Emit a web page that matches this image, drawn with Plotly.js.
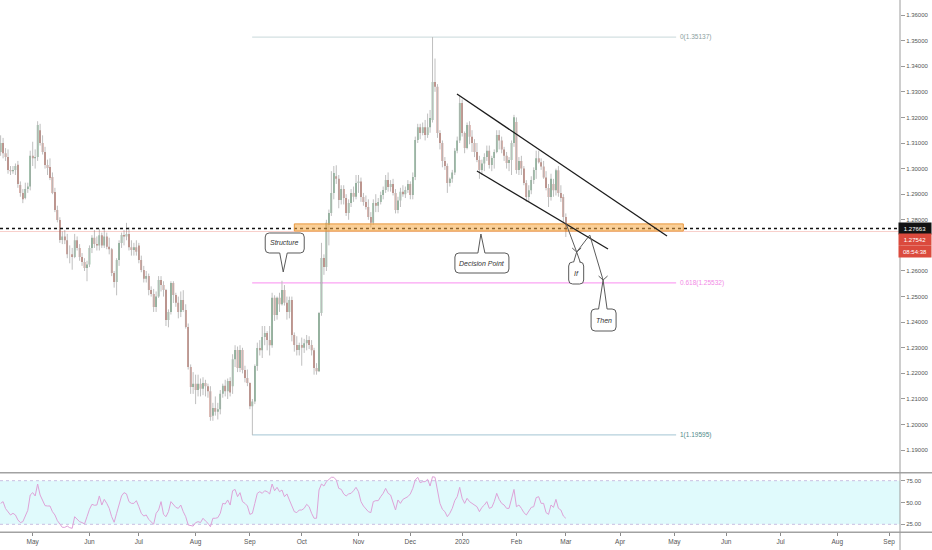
<!DOCTYPE html>
<html><head><meta charset="utf-8">
<script src="https://cdn.plot.ly/plotly-3.0.1.min.js"></script>
<style>html,body{margin:0;padding:0;background:#fff;}#chart{width:932px;height:550px;}</style>
</head><body><div id="chart"></div>
<script>
// ---- categories ----
const startDate = '2019-04-12';
const endDate = '2020-03-02';
const holidays = ['2019-12-25', '2020-01-01'];
const monthTickDates = ['2019-05-01','2019-06-03','2019-07-01','2019-08-01','2019-09-02','2019-10-01','2019-11-01','2019-12-02','2020-01-02','2020-02-03','2020-03-02','2020-04-01','2020-05-01','2020-06-01','2020-07-01','2020-08-03','2020-09-01'];
const monthTickLabels = ['May','Jun','Jul','Aug','Sep','Oct','Nov','Dec','2020','Feb','Mar','Apr','May','Jun','Jul','Aug','Sep'];
const priceTickValues = [1.19,1.20,1.21,1.22,1.23,1.24,1.25,1.26,1.28,1.29,1.30,1.31,1.32,1.33,1.34,1.35,1.36];
const rsiTickValues = [25, 50, 75];
const rsiTickLabels = ['25.00', '50.00', '75.00'];

// ---- series (daily OHLC, Apr 12 2019 .. Mar 2 2020) ----
const open = [
1.3065,1.3100,1.3060,1.3045,1.2995,1.2990,1.2995,1.3015,1.2936,1.2905,1.2885,1.2920,1.2930,
1.3050,1.3040,1.3045,1.3150,1.3100,1.3065,1.3014,1.3006,1.2967,1.2909,1.2838,1.2799,1.2721,1.2735,1.2720,1.2665,1.2665,1.2655,1.2720,1.2690,1.2655,1.2635,1.2612,
1.2625,1.2690,1.2730,1.2705,1.2700,1.2740,1.2700,1.2735,1.2695,1.2685,1.2592,1.2557,1.2643,1.2709,1.2741,1.2735,1.2745,1.2693,1.2682,1.2693,
1.2700,1.2643,1.2604,1.2570,1.2580,1.2526,1.2510,1.2459,1.2500,1.2565,1.2545,1.2526,1.2409,1.2440,1.2553,1.2506,1.2476,1.2440,1.2487,1.2448,1.2381,1.2225,1.2147,
1.2160,1.2135,1.2160,1.2140,1.2162,1.2150,1.2130,1.2035,1.2065,1.2050,1.2060,1.2120,1.2152,1.2130,1.2170,1.2150,1.2255,1.2291,1.2221,1.2291,1.2213,1.2182,
1.2162,1.2072,1.2090,1.2229,1.2299,1.2290,1.2342,1.2358,1.2330,1.2310,1.2495,1.2428,1.2495,1.2470,1.2526,1.2476,1.2440,1.2487,1.2350,1.2311,1.2291,
1.2311,1.2300,1.2318,1.2330,1.2311,1.2290,1.2221,1.2208,1.2436,1.2651,1.2616,1.2780,1.2827,1.2905,1.2970,1.2960,1.2877,1.2920,1.2885,1.2827,1.2866,1.2905,1.2890,
1.2944,1.2950,1.2889,1.2870,1.2850,1.2811,1.2788,1.2866,1.2855,1.2870,1.2897,1.2916,1.2955,1.2928,1.2940,1.2905,1.2838,1.2875,1.2910,1.2900,1.2916,
1.2940,1.2897,1.2967,1.3112,1.3162,1.3139,1.3162,1.3131,1.3162,1.3190,1.3338,1.3320,1.3139,1.3100,1.3030,1.3010,1.2944,1.2960,1.2985,1.3070,1.3110,
1.3256,1.3139,1.3080,1.3170,1.3124,1.3100,1.3065,1.3034,1.2995,1.3020,1.3045,1.3070,1.3014,1.3041,1.3065,1.3131,1.3110,1.3075,1.3050,1.3022,1.3034,1.3100,
1.3182,1.2995,1.3030,1.3000,1.2944,1.2889,1.2915,1.2955,1.2995,1.3040,1.3025,1.3008,1.2965,1.2924,1.2889,1.2940,1.2915,1.2994,1.2905,1.2889,
1.2811];
const high = [
1.3130,1.3120,1.3080,1.3075,1.3010,1.3010,1.3020,1.3030,1.2950,1.2920,1.2945,1.2945,1.3070,
1.3105,1.3075,1.3185,1.3175,1.3130,1.3085,1.3035,1.3040,1.2985,1.2925,1.2855,1.2810,1.2755,1.2760,1.2745,1.2700,1.2690,1.2745,1.2735,1.2705,1.2670,1.2650,1.2640,
1.2700,1.2740,1.2760,1.2735,1.2765,1.2750,1.2765,1.2750,1.2730,1.2690,1.2600,1.2650,1.2720,1.2750,1.2760,1.2788,1.2770,1.2720,1.2710,1.2720,
1.2710,1.2660,1.2620,1.2600,1.2590,1.2540,1.2530,1.2520,1.2580,1.2580,1.2560,1.2530,1.2450,1.2560,1.2560,1.2515,1.2500,1.2520,1.2525,1.2470,1.2395,1.2235,1.2205,
1.2195,1.2195,1.2180,1.2185,1.2175,1.2160,1.2150,1.2085,1.2110,1.2085,1.2135,1.2160,1.2175,1.2180,1.2185,1.2275,1.2310,1.2305,1.2310,1.2300,1.2230,1.2215,
1.2165,1.2100,1.2235,1.2320,1.2330,1.2385,1.2385,1.2365,1.2385,1.2515,1.2505,1.2500,1.2515,1.2562,1.2545,1.2500,1.2500,1.2500,1.2360,1.2345,1.2320,
1.2340,1.2335,1.2350,1.2345,1.2330,1.2300,1.2240,1.2440,1.2710,1.2665,1.2800,1.2840,1.2990,1.3010,1.3013,1.2975,1.2935,1.2935,1.2900,1.2880,1.2920,1.2930,1.2975,
1.2975,1.2965,1.2905,1.2895,1.2880,1.2830,1.2880,1.2900,1.2885,1.2910,1.2930,1.2975,1.2985,1.2955,1.2960,1.2920,1.2890,1.2925,1.2935,1.2930,1.2955,
1.2950,1.2985,1.3125,1.3175,1.3175,1.3180,1.3190,1.3215,1.3229,1.3514,1.3430,1.3330,1.3150,1.3110,1.3045,1.3020,1.2965,1.2995,1.3080,1.3125,1.3285,
1.3270,1.3145,1.3180,1.3185,1.3150,1.3115,1.3100,1.3050,1.3035,1.3060,1.3090,1.3090,1.3050,1.3075,1.3150,1.3150,1.3125,1.3085,1.3065,1.3045,1.3110,1.3210,
1.3200,1.3045,1.3050,1.3010,1.2955,1.2935,1.2970,1.3005,1.3070,1.3070,1.3040,1.3030,1.2990,1.2940,1.2980,1.2960,1.3000,1.3010,1.2935,1.2900,
1.2825];
const low = [
1.3050,1.3040,1.3030,1.2980,1.2975,1.2980,1.2975,1.2925,1.2890,1.2865,1.2880,1.2905,1.2915,
1.3010,1.3000,1.3030,1.3090,1.3055,1.3000,1.2975,1.2955,1.2900,1.2830,1.2790,1.2710,1.2705,1.2705,1.2650,1.2630,1.2605,1.2650,1.2680,1.2640,1.2620,1.2600,1.2560,
1.2615,1.2670,1.2690,1.2680,1.2680,1.2690,1.2690,1.2685,1.2665,1.2580,1.2535,1.2505,1.2620,1.2690,1.2700,1.2720,1.2680,1.2660,1.2660,1.2660,
1.2630,1.2595,1.2555,1.2555,1.2505,1.2500,1.2440,1.2440,1.2495,1.2520,1.2500,1.2385,1.2380,1.2430,1.2475,1.2460,1.2415,1.2420,1.2440,1.2375,1.2215,1.2120,1.2120,
1.2080,1.2110,1.2110,1.2115,1.2110,1.2105,1.2015,1.2015,1.2035,1.2020,1.2040,1.2105,1.2110,1.2100,1.2110,1.2120,1.2225,1.2205,1.2205,1.2200,1.2165,1.2150,
1.2060,1.1959,1.2080,1.2210,1.2270,1.2260,1.2310,1.2290,1.2270,1.2300,1.2405,1.2410,1.2440,1.2465,1.2465,1.2410,1.2415,1.2325,1.2285,1.2270,1.2270,
1.2230,1.2280,1.2290,1.2295,1.2270,1.2195,1.2195,1.2205,1.2425,1.2585,1.2600,1.2700,1.2815,1.2880,1.2940,1.2845,1.2860,1.2860,1.2815,1.2800,1.2850,1.2870,1.2880,
1.2905,1.2870,1.2855,1.2840,1.2800,1.2770,1.2780,1.2830,1.2830,1.2860,1.2880,1.2905,1.2910,1.2910,1.2895,1.2825,1.2825,1.2850,1.2890,1.2885,1.2905,
1.2880,1.2880,1.2955,1.3100,1.3115,1.3130,1.3110,1.3120,1.3140,1.3180,1.3300,1.3120,1.3075,1.3005,1.2995,1.2905,1.2930,1.2945,1.2975,1.3060,1.3100,
1.3125,1.3060,1.3075,1.3095,1.3065,1.3045,1.3025,1.2960,1.2975,1.2990,1.3030,1.3000,1.2990,1.3000,1.3060,1.3075,1.3060,1.3030,1.3000,1.2990,1.2975,1.3085,
1.2980,1.2975,1.2975,1.2935,1.2870,1.2870,1.2900,1.2940,1.2960,1.3020,1.2995,1.2960,1.2915,1.2850,1.2875,1.2890,1.2895,1.2890,1.2870,1.2790,
1.2733];
const close = [
1.3100,1.3060,1.3045,1.2995,1.2990,1.2995,1.3010,1.2940,1.2905,1.2880,1.2920,1.2930,1.3050,
1.3040,1.3045,1.3170,1.3100,1.3065,1.3014,1.3002,1.2963,1.2905,1.2838,1.2799,1.2721,1.2735,1.2720,1.2665,1.2665,1.2655,1.2720,1.2690,1.2655,1.2635,1.2612,1.2625,
1.2690,1.2730,1.2705,1.2700,1.2740,1.2700,1.2735,1.2695,1.2685,1.2592,1.2557,1.2643,1.2709,1.2741,1.2735,1.2745,1.2693,1.2682,1.2693,1.2675,
1.2643,1.2604,1.2570,1.2580,1.2526,1.2510,1.2459,1.2500,1.2565,1.2545,1.2526,1.2409,1.2440,1.2553,1.2506,1.2476,1.2440,1.2487,1.2448,1.2381,1.2225,1.2147,1.2160,
1.2135,1.2160,1.2140,1.2162,1.2150,1.2130,1.2030,1.2065,1.2050,1.2060,1.2120,1.2152,1.2130,1.2170,1.2125,1.2255,1.2291,1.2221,1.2291,1.2213,1.2182,1.2162,
1.2072,1.2090,1.2229,1.2299,1.2290,1.2342,1.2358,1.2330,1.2310,1.2495,1.2428,1.2495,1.2470,1.2526,1.2476,1.2440,1.2487,1.2350,1.2311,1.2291,1.2311,
1.2300,1.2318,1.2330,1.2311,1.2290,1.2221,1.2208,1.2436,1.2651,1.2616,1.2788,1.2827,1.2905,1.2983,1.2960,1.2877,1.2920,1.2885,1.2827,1.2866,1.2905,1.2890,1.2944,
1.2950,1.2889,1.2870,1.2850,1.2811,1.2788,1.2866,1.2855,1.2870,1.2897,1.2916,1.2955,1.2928,1.2940,1.2905,1.2838,1.2875,1.2910,1.2900,1.2916,1.2940,
1.2897,1.2967,1.3112,1.3162,1.3139,1.3162,1.3131,1.3162,1.3198,1.3338,1.3320,1.3139,1.3100,1.3030,1.3010,1.2944,1.2960,1.2985,1.3070,1.3110,1.3256,
1.3139,1.3080,1.3170,1.3124,1.3100,1.3065,1.3034,1.2995,1.3020,1.3045,1.3070,1.3014,1.3041,1.3065,1.3131,1.3110,1.3075,1.3050,1.3022,1.3034,1.3100,1.3201,
1.2995,1.3030,1.3000,1.2944,1.2889,1.2915,1.2955,1.2995,1.3040,1.3025,1.3008,1.2965,1.2924,1.2889,1.2960,1.2915,1.2994,1.2905,1.2885,1.2811,
1.27542];
// RSI(14) values
const rsi = [
49,51,43,39.5,35.7,37.6,35.7,30,27,28,
33.7,41,58.6,61.3,57.5,71.2,58.6,52.9,46.4,46,
46,39.5,35.7,29.2,25.4,21.5,21.5,23,21.1,20.4,
33.7,30.7,28,27,25.4,33.7,42.2,47.9,46.8,47.1,
57.5,47.1,53.6,49,43.3,33.7,27.3,37.6,49,57.5,
61.3,59.8,51,49,49,52.1,45.2,37.6,34.5,35.7,
30.7,28,25,37.6,41.4,51,36.4,33.7,39.5,51,
47.1,44.4,43.3,47.1,39.5,33.7,24.2,23.4,23,26.9,
28,27,31.9,28.8,26.2,22.3,31.9,31.9,32.6,37.6,
49,48.3,52.9,47.1,63.5,65,56.7,61.3,51,49,
46,36.4,37.6,49,60.5,62.4,60.5,63.5,62.4,59.8,
71.2,63.5,67.4,62.4,64.3,
56.7,59.8,52.9,45.2,39.5,38.4,41.4,41.4,43.3,47.9,
45.2,37.6,31.9,31.9,64.3,71.2,68.9,73.9,76.6,78.9,
78.9,75.8,66.2,65.1,59.8,57.5,59.8,60.5,63.5,67.4,
62.4,51,46,43.3,39.5,38.4,51,52.1,52.1,56.7,
60.5,66.2,60.5,58.6,51,41.4,52.9,49,53.6,54.8,
56.7,59.8,66.2,75.8,78.9,72.7,73.9,73.9,76.6,68.9,
79.6,78.9,64.3,49,42.2,39.5,33.7,37.6,43.3,52.1,
56.7,67.4,54.8,49,54.8,51,49,47.1,45.2,39.5,
44.4,47.1,51,43.3,44.4,51,60.5,53.6,49,47.1,
43.3,43.3,52.9,65,45.2,47.1,43.3,38.4,35.7,39.5,
44.4,45.2,55.6,56.7,49,49,38.4,36.4,47.1,44.4,
53.6,43.3,41.4,34.5,31.9];

// ---- levels / drawings ----
const fibLevels = [
  {label:'0(1.35137)', price:1.35137, line:'#d3e0e2', text:'#8aa0a0'},
  {label:'0.618(1.25532)', price:1.25532, line:'#fba3f3', text:'#f28ae6'},
  {label:'1(1.19595)', price:1.19595, line:'#b6d1dc', text:'#4f8a8a'}
];
const horizLinePrice = 1.27663;
const lastPrice = 1.27542;
const countdownText = '08:54:38';
const zone = {x0:'2019-09-26 12:00', x1:'2020-05-07 02:24', y0:1.2756, y1:1.2784};
const fibStart = '2019-09-03 10:00', fibEnd = '2020-05-04 04:48';
const channelUpper = [['2019-12-30 09:36', 1.32914], ['2020-04-28 12:00', 1.27367]];
const channelLower = [['2020-01-10 12:00', 1.29906], ['2020-03-25 14:24', 1.26859]];
const pathPts = [['2020-03-02 12:00', 1.27875], ['2020-03-06 21:36', 1.26742], ['2020-03-16 04:48', 1.27406], ['2020-03-23 14:24', 1.25648]];
const callouts = [
  {text:'Structure', x:'2019-09-20 00:00', y:1.25961, box:[-18,21,19,39], tail:[-3.5,4], up:true},
  {text:'Decision Point', x:'2020-01-14 02:24', y:1.27445, box:[-26,28,-19,-39], tail:[-3,4], up:false},
  {text:'If', x:pathPts[1][0], y:pathPts[1][1], box:[-8,7,-10,-32], tail:[-3,3.5], up:false},
  {text:'Then', x:pathPts[3][0], y:pathPts[3][1], box:[-12,13,-29,-51], tail:[-4.5,4], up:false}
];

// ---- build ----
function weekdayDates(s, e, skip) {
  const out = []; const d = new Date(s + 'T12:00:00Z'); const end = new Date(e + 'T12:00:00Z');
  while (d <= end) {
    const w = d.getUTCDay(); const iso = d.toISOString().slice(0, 10);
    if (w !== 0 && w !== 6 && !skip.includes(iso)) out.push(iso + ' 12:00');
    d.setUTCDate(d.getUTCDate() + 1);
  }
  return out;
}
const dates = weekdayDates(startDate, endDate, holidays);

const wx = [], wy = [];
dates.forEach((d, k) => { wx.push(d, d, null); wy.push(low[k], high[k], null); });

const GREEN = '#3f8858', RED = '#a33d2c';
const traces = [
  {type:'scatter', mode:'lines', x:wx, y:wy, line:{color:'#bfbfbf', width:1}, hoverinfo:'skip', xaxis:'x', yaxis:'y', connectgaps:false},
  {type:'candlestick', x:dates, open:open, high:high, low:low, close:close, xaxis:'x', yaxis:'y',
   increasing:{fillcolor:GREEN, line:{color:GREEN, width:0}},
   decreasing:{fillcolor:RED, line:{color:RED, width:0}}, whiskerwidth:0, hoverinfo:'skip'},
  {type:'scatter', mode:'lines', x:dates, y:rsi, xaxis:'x', yaxis:'y2', line:{color:'#dea2d8', width:1}, hoverinfo:'skip'}
];

const XD = 900 / 932;
const shapes = [];
const annotations = [];

// RSI band
shapes.push({type:'rect', xref:'paper', yref:'y2', x0:0, x1:XD, y0:25, y1:75, fillcolor:'#e0fafc', line:{width:0}, layer:'below'});
[25, 75].forEach(v => shapes.push({type:'line', xref:'paper', yref:'y2', x0:0, x1:XD, y0:v, y1:v, line:{color:'#c8bfe2', width:1, dash:'dot'}, layer:'below'}));
// pane separators & axis line
[1 - 472.7 / 550, 1 - 532.3 / 550].forEach(v => shapes.push({type:'line', xref:'paper', yref:'paper', x0:0, x1:1, y0:v, y1:v, line:{color:'#a2a2a2', width:1.5}}));
shapes.push({type:'line', xref:'paper', yref:'paper', x0:XD, x1:XD, y0:0, y1:1, line:{color:'#9c9c9c', width:1}});
// fib lines
fibLevels.forEach(f => {
  shapes.push({type:'line', xref:'x', yref:'y', x0:fibStart, x1:fibEnd, y0:f.price, y1:f.price, line:{color:f.line, width:1.2}, layer:'below'});
  annotations.push({xref:'x', yref:'y', x:fibEnd, y:f.price, text:f.label, showarrow:false, xanchor:'left', yanchor:'middle', xshift:2, font:{size:6.5, color:f.text}});
});
// last price line & horizontal dotted line
shapes.push({type:'line', xref:'paper', yref:'y', x0:0, x1:XD, y0:lastPrice, y1:lastPrice, line:{color:'rgba(226,84,70,0.28)', width:1}});
shapes.push({type:'line', xref:'paper', yref:'y', x0:0, x1:XD, y0:horizLinePrice, y1:horizLinePrice, line:{color:'#111111', width:1.5, dash:'dot'}});
// zone
shapes.push({type:'rect', xref:'x', yref:'y', x0:zone.x0, x1:zone.x1, y0:zone.y0, y1:zone.y1, fillcolor:'rgba(246,168,66,0.55)', line:{color:'#e8973c', width:1}});
// channel
[channelUpper, channelLower].forEach(c => shapes.push({type:'line', xref:'x', yref:'y', x0:c[0][0], y0:c[0][1], x1:c[1][0], y1:c[1][1], line:{color:'#1c1c1c', width:1.3}}));
// arrows path
for (let k = 0; k < pathPts.length - 1; k++) {
  shapes.push({type:'line', xref:'x', yref:'y', x0:pathPts[k][0], y0:pathPts[k][1], x1:pathPts[k+1][0], y1:pathPts[k+1][1], line:{color:'#5c5c5c', width:1}});
}
[pathPts[1], pathPts[3]].forEach(p => shapes.push({type:'path', xref:'x', yref:'y', xsizemode:'pixel', ysizemode:'pixel', xanchor:p[0], yanchor:p[1],
  path:'M -4.5,4 L 0,0 L 4.5,4', line:{color:'#5c5c5c', width:1}, fillcolor:'rgba(0,0,0,0)'}));
// callouts
function calloutPath(b, t, up) {
  const [x0, x1, ya, yb] = b; const r = 4;
  if (up) {
    return `M ${t[1]},${ya} L 0,0 L ${t[0]},${ya} L ${x0+r},${ya} Q ${x0},${ya} ${x0},${ya+r} L ${x0},${yb-r} Q ${x0},${yb} ${x0+r},${yb} L ${x1-r},${yb} Q ${x1},${yb} ${x1},${yb-r} L ${x1},${ya+r} Q ${x1},${ya} ${x1-r},${ya} Z`;
  }
  return `M ${t[0]},${ya} L 0,0 L ${t[1]},${ya} L ${x1-r},${ya} Q ${x1},${ya} ${x1},${ya-r} L ${x1},${yb+r} Q ${x1},${yb} ${x1-r},${yb} L ${x0+r},${yb} Q ${x0},${yb} ${x0},${yb+r} L ${x0},${ya-r} Q ${x0},${ya} ${x0+r},${ya} Z`;
}
callouts.forEach(c => {
  shapes.push({type:'path', xref:'x', yref:'y', xsizemode:'pixel', ysizemode:'pixel', xanchor:c.x, yanchor:c.y,
    path:calloutPath(c.box, c.tail, c.up), fillcolor:'#ffffff', line:{color:'#5a5a5a', width:1}});
  annotations.push({xref:'x', yref:'y', x:c.x, y:c.y, text:'<i>' + c.text + '</i>', showarrow:false,
    xshift:(c.box[0] + c.box[1]) / 2, yshift:(c.box[2] + c.box[3]) / 2, font:{size:7, color:'#333333'}});
});
// right axis price labels
annotations.push({xref:'paper', yref:'y', x:1, y:horizLinePrice, xanchor:'right', yanchor:'middle', text:horizLinePrice.toFixed(5), showarrow:false,
  bgcolor:'#131313', borderpad:1, width:30, height:9, font:{size:6, color:'#ffffff'}});
annotations.push({xref:'paper', yref:'y', x:1, y:lastPrice, xanchor:'right', yanchor:'middle', yshift:-8, text:lastPrice.toFixed(5), showarrow:false,
  bgcolor:'#db4a3d', borderpad:1, width:30, height:9, font:{size:6, color:'#ffffff'}});
annotations.push({xref:'paper', yref:'y', x:1, y:lastPrice, xanchor:'right', yanchor:'middle', yshift:-19.5, text:countdownText, showarrow:false,
  bgcolor:'#db4a3d', borderpad:1, width:30, height:9, font:{size:6, color:'#ffffff'}});

const layout = {
  width:932, height:550, margin:{l:0, r:0, t:0, b:0},
  paper_bgcolor:'#ffffff', plot_bgcolor:'#ffffff', showlegend:false,
  font:{family:'"Liberation Sans", Arial, sans-serif', size:6, color:'#4d4d4d'},
  boxgap:0.12,
  xaxis:{type:'date', domain:[0, XD], anchor:'y2', range:['2019-04-12 06:00', '2020-09-07 21:36'],
    rangebreaks:[{bounds:['sat', 'mon']}, {values:holidays}],
    tickvals:monthTickDates.map(d => d + ' 12:00'), ticktext:monthTickLabels,
    ticks:'outside', ticklen:3, tickcolor:'#8a8a8a', showgrid:false, zeroline:false, showline:false,
    tickfont:{size:6.5, color:'#555555'}, rangeslider:{visible:false}},
  yaxis:{domain:[1 - 472 / 550, 1], range:[1.18148, 1.36586], side:'right', anchor:'x',
    tickvals:priceTickValues, ticktext:priceTickValues.map(v => v.toFixed(5)),
    ticks:'outside', ticklen:4, tickcolor:'#9a9a9a', showgrid:false, zeroline:false, showline:false,
    tickfont:{size:6, color:'#555555'}},
  yaxis2:{domain:[1 - 532 / 550, 1 - 473 / 550], range:[16.17, 83.83], side:'right', anchor:'x',
    tickvals:rsiTickValues, ticktext:rsiTickLabels,
    ticks:'outside', ticklen:4, tickcolor:'#9a9a9a', showgrid:false, zeroline:false, showline:false,
    tickfont:{size:6, color:'#555555'}},
  shapes:shapes, annotations:annotations
};

Plotly.newPlot('chart', traces, layout, {staticPlot:true, displayModeBar:false});
</script>
</body></html>
